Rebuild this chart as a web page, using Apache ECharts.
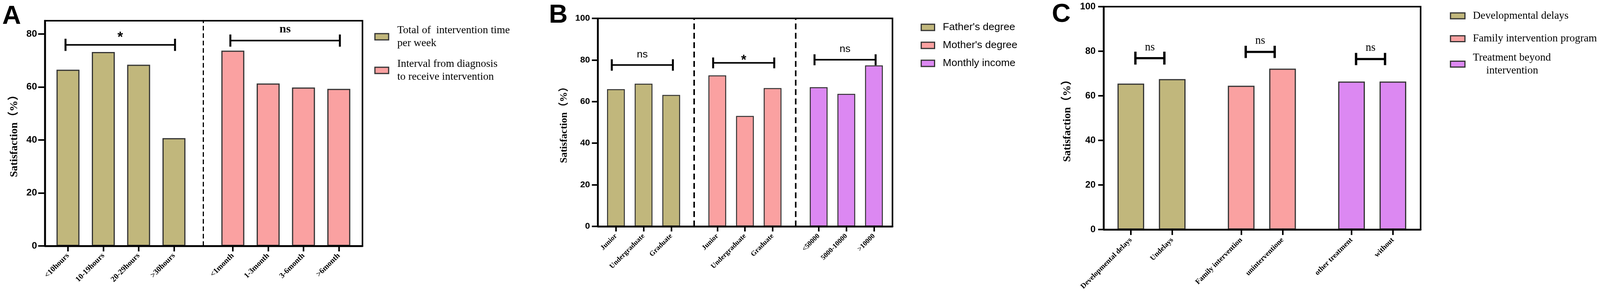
<!DOCTYPE html>
<html><head><meta charset="utf-8">
<script src="https://cdn.jsdelivr.net/npm/echarts@6/dist/echarts.min.js"></script>
<style>html,body{margin:0;padding:0;background:#fff;overflow:hidden}#c{width:4317px;height:757px}</style>
</head><body><div id="c"></div>
<script>
// ================= DATA =================
const catsA1 = ['<10hours', '10-19hours', '20-29hours', '>30hours'];
const valsA1 = [66.5, 73.2, 68.4, 40.7];
const catsA2 = ['<1month', '1-3month', '3-6month', '>6month'];
const valsA2 = [73.7, 61.3, 59.8, 59.3];
const namesA = ['Total of  intervention time\nper week', 'Interval from diagnosis\nto receive intervention'];

const catsB1 = ['Junior', 'Undergraduate', 'Graduate'];
const valsB1 = [66.0, 68.6, 63.2];
const catsB2 = ['Junior', 'Undergraduate', 'Graduate'];
const valsB2 = [72.6, 53.1, 66.5];
const catsB3 = ['<50000', '5000-10000', '>10000'];
const valsB3 = [66.9, 63.7, 77.4];
const namesB = ["Father's degree", "Mother's degree", 'Monthly income'];

const catsC1 = ['Developmental delays', 'Undelays'];
const valsC1 = [65.5, 67.5];
const catsC2 = ['Family intervention', 'uninterventione'];
const valsC2 = [64.5, 72.2];
const catsC3 = ['other treatment', 'without'];
const valsC3 = [66.4, 66.4];
const namesC = ['Developmental delays', 'Family intervention program', 'Treatment beyond\nintervention'];

const yTicksA = [0, 20, 40, 60, 80];
const yTicksBC = [0, 20, 40, 60, 80, 100];
const yTitle = 'Satisfaction（%）';

// significance brackets: group index, bracket level, cap half-height, label, label level
const bracketsA = [
  {group: 0, y: 75.9, cap: 2.3, label: '*', labelY: 79.8},
  {group: 1, y: 77.5, cap: 2.3, label: 'ns', labelY: 81.4}
];
const bracketsB = [
  {group: 0, y: 77.6, cap: 2.75, label: 'ns', labelY: 82.1},
  {group: 1, y: 78.6, cap: 2.6, label: '*', labelY: 81.3},
  {group: 2, y: 80.1, cap: 2.65, label: 'ns', labelY: 84.7}
];
const bracketsC = [
  {group: 0, y: 76.9, cap: 2.9, label: 'ns', labelY: 81.3},
  {group: 1, y: 79.7, cap: 2.75, label: 'ns', labelY: 84.3},
  {group: 2, y: 76.5, cap: 2.75, label: 'ns', labelY: 81.1}
];

// ================= STYLE / LAYOUT =================
const REF_W = 4317;
const VIEW_W = Math.min(REF_W, window.innerWidth || REF_W, document.documentElement.clientWidth || REF_W);
const SX = VIEW_W / REF_W;   // horizontal fit factor (viewport may be narrower than the reference)
const X = v => v * SX;
document.getElementById('c').style.width = VIEW_W + 'px';

const OLIVE = '#C1B77C', PINK = '#FAA1A1', PURPLE = '#DC88F2';
const SERIF = "'Liberation Serif','Times New Roman','Noto Sans CJK SC',serif";
const SANS = "'Liberation Sans',Arial,'Noto Sans CJK SC',sans-serif";
const GAP = 5 / 3;

function groupPositions(groups) {
  const out = []; let x = 0;
  groups.forEach((g, gi) => {
    if (gi > 0) x += GAP - 1;
    const arr = [];
    g.forEach(() => { arr.push(x); x += 1; });
    out.push(arr);
  });
  return out;
}

const panels = [
  {
    groups: [catsA1, catsA2], vals: [valsA1, valsA2], names: namesA, colors: [OLIVE, PINK],
    yMax: 85, yTicks: yTicksA, brackets: bracketsA, dividers: true,
    grid: {left: 121, top: 53, width: 857, height: 576},
    barWidth: 62, barBorder: 3, yFont: 26, yMargin: 21, yTickLen: 18,
    xFont: 21, xMargin: 22, xTickLen: 14, titleSize: 28, nameGap: 67,
    ext: [-0.07, 0.03], lw: 4, cw: 5,
    ns: {size: 32, family: SERIF, weight: 'bold', dy: -0.08},
    star: {size: 38, family: SANS, weight: 'bold', dy: 0.22},
    dash: {type: [12, 7], width: 3}
  },
  {
    groups: [catsB1, catsB2, catsB3], vals: [valsB1, valsB2, valsB3], names: namesB, colors: [OLIVE, PINK, PURPLE],
    yMax: 100, yTicks: yTicksBC, brackets: bracketsB, dividers: true,
    grid: {left: 1613, top: 47, width: 795, height: 532},
    barWidth: 48, barBorder: 2.5, yFont: 24, yMargin: 21, yTickLen: 16,
    xFont: 19, xMargin: 22, xTickLen: 13, titleSize: 26, nameGap: 77,
    ext: [-0.15, 0.06], lw: 4, cw: 5,
    ns: {size: 28, family: SANS, weight: 'normal', dy: -0.08},
    star: {size: 36, family: SANS, weight: 'bold', dy: 0.22},
    dash: {type: [15, 9], width: 4}
  },
  {
    groups: [catsC1, catsC2, catsC3], vals: [valsC1, valsC2, valsC3], names: namesC, colors: [OLIVE, PINK, PURPLE],
    yMax: 100, yTicks: yTicksBC, brackets: bracketsC, dividers: false,
    grid: {left: 2978, top: 17, width: 855, height: 570},
    barWidth: 72, barBorder: 3, yFont: 25, yMargin: 22, yTickLen: 15,
    xFont: 20, xMargin: 24, xTickLen: 14, titleSize: 28, nameGap: 83,
    ext: [0.11, -0.19], lw: 5.5, cw: 6,
    ns: {size: 30, family: SERIF, weight: 'normal', dy: -0.08},
    star: {size: 36, family: SANS, weight: 'bold', dy: 0.22},
    dash: {type: [12, 7], width: 3}
  }
];

const grids = [], xAxes = [], yAxes = [], series = [];

panels.forEach((p, k) => {
  const pos = groupPositions(p.groups);
  const allPos = [].concat(...pos);
  const allCats = [].concat(...p.groups);
  const labelMap = {};
  allPos.forEach((v, i) => { labelMap[v.toFixed(3)] = allCats[i]; });
  const lastPos = allPos[allPos.length - 1];

  grids.push({show: true, borderColor: '#000', borderWidth: 4, backgroundColor: 'transparent', containLabel: false,
    left: X(p.grid.left), top: p.grid.top, width: X(p.grid.width), height: p.grid.height});

  xAxes.push({
    type: 'value', gridIndex: k, min: -0.655, max: lastPos + 0.67, z: 10,
    axisLine: {show: true, onZero: false, lineStyle: {color: '#000', width: 4.5}},
    axisTick: {show: true, customValues: allPos, length: p.xTickLen, lineStyle: {color: '#000', width: 4}},
    axisLabel: {
      customValues: allPos, rotate: 45, margin: p.xMargin, color: '#000',
      fontFamily: SERIF, fontWeight: 'bold', fontSize: p.xFont * SX,
      formatter: v => labelMap[Number(v).toFixed(3)] || ''
    },
    splitLine: {show: false}
  });

  yAxes.push({
    type: 'value', gridIndex: k, min: 0, max: p.yMax, interval: 20, z: 10,
    name: yTitle, nameLocation: 'middle', nameRotate: 90, nameGap: X(p.nameGap),
    nameTextStyle: {fontFamily: SERIF, fontWeight: 'bold', fontSize: p.titleSize, color: '#000'},
    axisLine: {show: true, onZero: false, lineStyle: {color: '#000', width: 4.5}},
    axisTick: {show: true, customValues: p.yTicks, length: X(p.yTickLen), lineStyle: {color: '#000', width: 4}},
    axisLabel: {customValues: p.yTicks, margin: X(p.yMargin), color: '#000', fontFamily: SANS, fontWeight: 'bold', fontSize: p.yFont * SX},
    splitLine: {show: false}
  });

  const dividers = [];
  if (p.dividers) {
    for (let g = 0; g < pos.length - 1; g++) {
      dividers.push({xAxis: (pos[g][pos[g].length - 1] + pos[g + 1][0]) / 2});
    }
  }

  p.groups.forEach((g, gi) => {
    const s = {
      type: 'bar', name: p.names[gi], xAxisIndex: k, yAxisIndex: k,
      data: pos[gi].map((x, i) => [x, p.vals[gi][i]]),
      barWidth: X(p.barWidth), barGap: '-100%',
      itemStyle: {color: p.colors[gi], borderColor: '#333', borderWidth: p.barBorder},
      emphasis: {disabled: true}, silent: true, z: 2
    };
    if (gi === 0 && dividers.length) {
      s.markLine = {
        silent: true, symbol: ['none', 'none'], label: {show: false},
        lineStyle: {color: '#000', type: p.dash.type, width: p.dash.width},
        emphasis: {disabled: true},
        data: dividers
      };
    }
    series.push(s);
  });

  const bl = p.brackets;
  series.push({
    type: 'custom', xAxisIndex: k, yAxisIndex: k, silent: true, clip: false, z: 5,
    encode: {x: [0, 1], y: [2]},
    data: bl.map(b => {
      const gp = pos[b.group];
      return [gp[0] + p.ext[0], gp[gp.length - 1] + p.ext[1], b.y, b.cap, b.labelY];
    }),
    renderItem: function (params, api) {
      const b = bl[params.dataIndex];
      const x1 = api.value(0), x2 = api.value(1), y = api.value(2), cap = api.value(3), ly = api.value(4);
      const a = api.coord([x1, y]), c = api.coord([x2, y]);
      const a1 = api.coord([x1, y + cap]), a2 = api.coord([x1, y - cap]);
      const c1 = api.coord([x2, y + cap]), c2 = api.coord([x2, y - cap]);
      const t = api.coord([(x1 + x2) / 2, ly]);
      const f = b.label === '*' ? p.star : p.ns;
      return {type: 'group', children: [
        {type: 'line', shape: {x1: a[0], y1: a[1], x2: c[0], y2: c[1]}, style: {stroke: '#000', lineWidth: p.lw}},
        {type: 'line', shape: {x1: a1[0], y1: a1[1], x2: a2[0], y2: a2[1]}, style: {stroke: '#000', lineWidth: p.cw}},
        {type: 'line', shape: {x1: c1[0], y1: c1[1], x2: c2[0], y2: c2[1]}, style: {stroke: '#000', lineWidth: p.cw}},
        {type: 'text', x: t[0], y: t[1] + f.dy * f.size, style: {
          text: b.label, align: 'center', verticalAlign: 'middle',
          fontSize: f.size * SX, fontFamily: f.family, fontWeight: f.weight, fill: '#000'}}
      ]};
    }
  });
});

const legendBase = {
  orient: 'vertical', icon: 'rect', selectedMode: false, padding: 0,
  itemStyle: {borderColor: '#333', borderWidth: 3}
};
const legends = [
  Object.assign({}, legendBase, {
    left: X(1010), top: 61, itemWidth: X(37), itemHeight: 16, itemGap: 20, data: namesA,
    textStyle: {fontFamily: SERIF, fontSize: 29 * SX, lineHeight: 33, color: '#000', padding: [0, 0, 0, X(18)]}
  }),
  Object.assign({}, legendBase, {
    left: X(2484), top: 55, itemWidth: X(36), itemHeight: 16, itemGap: 16, data: namesB,
    textStyle: {fontFamily: SANS, fontSize: 28 * SX, lineHeight: 30, color: '#000', padding: [0, 0, 0, X(17)]}
  })
];
const legendTopsC = [24, 82.5, 131];
namesC.forEach((n, i) => {
  legends.push(Object.assign({}, legendBase, {
    left: X(3912), top: legendTopsC[i], itemWidth: X(39), itemHeight: 15, data: [n],
    formatter: name => name.replace('\n', '\n     '),
    textStyle: {fontFamily: SERIF, fontSize: 29 * SX, lineHeight: 33, color: '#000', padding: [0, 0, 0, X(16)]}
  }));
});

const letterStyle = {fontFamily: SANS, fontWeight: 'bold', fontSize: 70 * SX, color: '#000'};
const option = {
  backgroundColor: '#fff',
  animation: false,
  title: [
    {text: 'A', left: X(6), top: 9, padding: 0, textStyle: letterStyle},
    {text: 'B', left: X(1481), top: 6, padding: 0, textStyle: letterStyle},
    {text: 'C', left: X(2838), top: 4, padding: 0, textStyle: letterStyle}
  ],
  legend: legends,
  grid: grids,
  xAxis: xAxes,
  yAxis: yAxes,
  series: series
};

const chart = echarts.init(document.getElementById('c'), null, {renderer: 'canvas'});
chart.setOption(option);
</script>
</body></html>
